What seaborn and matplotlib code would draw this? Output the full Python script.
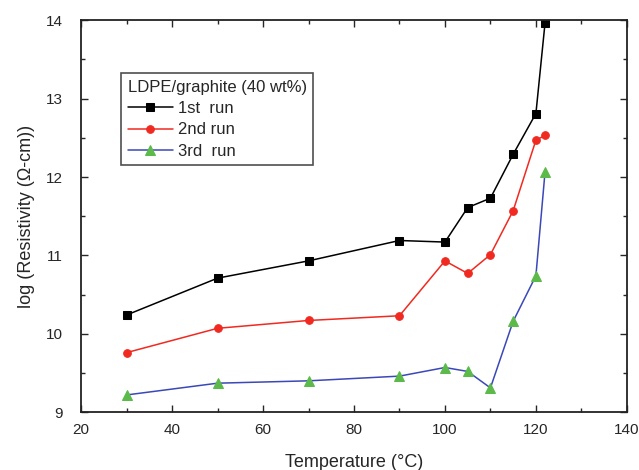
import pandas as pd
import matplotlib.pyplot as plt
import seaborn as sns
from matplotlib.ticker import MultipleLocator

# values
temp_1st = [30, 50, 70, 90, 100, 105, 110, 115, 120, 122]
res_1st = [10.24, 10.71, 10.93, 11.19, 11.17, 11.61, 11.73, 12.29, 12.81, 13.96]

temp_2nd = [30, 50, 70, 90, 100, 105, 110, 115, 120, 122]
res_2nd = [9.76, 10.07, 10.17, 10.23, 10.93, 10.77, 11.01, 11.57, 12.47, 12.53]

temp_3rd = [30, 50, 70, 90, 100, 105, 110, 115, 120, 122]
res_3rd = [9.22, 9.37, 9.40, 9.46, 9.57, 9.52, 9.31, 10.16, 10.74, 12.06]

run_names = ['1st  run', '2nd run', '3rd  run']

sns.set_style('ticks')
plt.rcParams['font.family'] = ['Liberation Sans', 'DejaVu Sans']

fig = plt.figure(figsize=(6.39, 4.70), dpi=100)
ax = fig.add_axes([0.127, 0.123, 0.854, 0.834])

runs = [
    (temp_1st, res_1st, 'black', 'black', 's', 5.5),
    (temp_2nd, res_2nd, '#f02a20', '#f02a20', 'o', 5.5),
    (temp_3rd, res_3rd, '#3a48b8', '#5cba4a', '^', 7.5),
]
for name, (t, r, lc, mc, mk, ms) in zip(run_names, runs):
    df = pd.DataFrame({'T': t, 'R': r})
    sns.lineplot(data=df, x='T', y='R', ax=ax, color=lc, lw=1.1,
                 marker=mk, markersize=ms,
                 markerfacecolor=mc, markeredgecolor=mc, label=name)

ax.set_xlim(20, 140)
ax.set_ylim(9, 14)
ax.xaxis.set_major_locator(MultipleLocator(20))
ax.xaxis.set_minor_locator(MultipleLocator(10))
ax.yaxis.set_major_locator(MultipleLocator(1))
ax.yaxis.set_minor_locator(MultipleLocator(0.5))
ax.tick_params(which='both', direction='in', top=True, right=True, labelsize=11)
ax.tick_params(which='major', length=5, width=1)
ax.tick_params(which='minor', length=3, width=1)
ax.tick_params(axis='x', pad=8)
ax.tick_params(axis='y', pad=13)
for s in ax.spines.values():
    s.set_linewidth(1.3)
    s.set_color('#222222')

ax.set_xlabel('Temperature (°C)', fontsize=13, labelpad=12)
ax.set_ylabel('log (Resistivity (Ω-cm))', fontsize=13, labelpad=8)

leg = ax.legend(title='LDPE/graphite (40 wt%)', loc='upper left',
                bbox_to_anchor=(0.073, 0.865), borderaxespad=0,
                fontsize=12, title_fontsize=12,
                frameon=True, fancybox=False, handlelength=2.7,
                handletextpad=0.3, borderpad=0.4, labelspacing=0.38)
leg._legend_box.align = 'left'
leg.get_frame().set_edgecolor('#222222')
leg.get_frame().set_linewidth(1.2)

plt.savefig('out.png', dpi=100)
